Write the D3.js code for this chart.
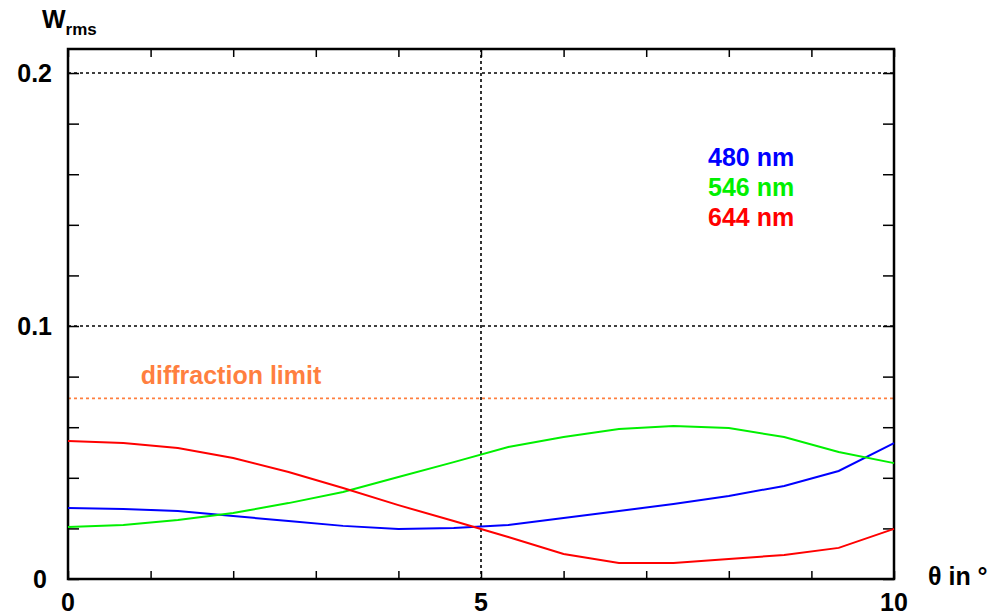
<!DOCTYPE html>
<html>
<head>
<meta charset="utf-8">
<script src="https://cdn.jsdelivr.net/npm/d3@7"></script>
<style>
  body { margin: 0; background: #fff; }
  svg text { font-family: "Liberation Sans", Arial, sans-serif; font-weight: bold; }
</style>
</head>
<body>
<svg id="chart" width="990" height="615"></svg>
<script>
// field angle in degrees
const theta = [0, 0.67, 1.33, 2, 2.67, 3.33, 4, 4.67, 5.33, 6, 6.67, 7.33, 8, 8.67, 9.33, 10]
// rms wavefront error per wavelength
const w480 = [0.0281, 0.0277, 0.0269, 0.0249, 0.0229, 0.0210, 0.0198, 0.0202, 0.0213, 0.0241, 0.0269, 0.0296, 0.0328, 0.0368, 0.0427, 0.0537]
const w546 = [0.0206, 0.0213, 0.0233, 0.0261, 0.0300, 0.0344, 0.0403, 0.0462, 0.0522, 0.0561, 0.0593, 0.0605, 0.0597, 0.0561, 0.0502, 0.0458]
const w644 = [0.0545, 0.0538, 0.0518, 0.0478, 0.0423, 0.0360, 0.0292, 0.0229, 0.0166, 0.0099, 0.0063, 0.0063, 0.0079, 0.0095, 0.0123, 0.0198]
const seriesNames = ['480 nm', '546 nm', '644 nm']
const seriesColors = ['#0000ff', '#00f000', '#ff0000']
const diffractionLimit = 0.0714
const xLabels = [0, 5, 10]
const yLabels = [0, 0.1, 0.2]

const svg = d3.select('#chart')
const mLeft = 68, mRight = 894, mTop = 49, mBottom = 579

const x = d3.scaleLinear().domain([0, 10]).range([mLeft, mRight])
const y = d3.scaleLinear().domain([0, 0.2095]).range([mBottom, mTop])

// dotted grid at the major ticks
const grid = svg.append('g').attr('class', 'grid')
grid.selectAll('line.h').data([0.1, 0.2]).enter().append('line')
  .attr('x1', mLeft).attr('x2', mRight)
  .attr('y1', d => y(d)).attr('y2', d => y(d))
  .attr('stroke', '#000').attr('stroke-width', 1.6).attr('stroke-dasharray', '3,3')
grid.append('line')
  .attr('x1', x(5)).attr('x2', x(5)).attr('y1', mTop).attr('y2', mBottom)
  .attr('stroke', '#000').attr('stroke-width', 1.6).attr('stroke-dasharray', '3,3')

// diffraction limit
svg.append('line')
  .attr('x1', mLeft).attr('x2', mRight)
  .attr('y1', y(diffractionLimit)).attr('y2', y(diffractionLimit))
  .attr('stroke', '#ff7f3f').attr('stroke-width', 1.6).attr('stroke-dasharray', '3,3')
svg.append('text')
  .attr('x', 231).attr('y', y(diffractionLimit) - 14)
  .attr('text-anchor', 'middle').attr('font-size', 25)
  .attr('fill', '#ff7f3f').text('diffraction limit')

// axes, ticks pointing inward on all four sides
const noLabel = () => ''
svg.append('g').attr('transform', `translate(0,${mBottom})`)
  .call(d3.axisBottom(x).ticks(10).tickSize(-8).tickFormat(noLabel))
svg.append('g').attr('transform', `translate(0,${mTop})`)
  .call(d3.axisTop(x).ticks(10).tickSize(-8).tickFormat(noLabel))
svg.append('g').attr('transform', `translate(${mLeft},0)`)
  .call(d3.axisLeft(y).tickValues(d3.range(0, 0.201, 0.02)).tickSize(-11).tickFormat(noLabel))
svg.append('g').attr('transform', `translate(${mRight},0)`)
  .call(d3.axisRight(y).tickValues(d3.range(0, 0.201, 0.02)).tickSize(-11).tickFormat(noLabel))
svg.selectAll('.domain').remove()
svg.selectAll('.tick line').attr('stroke', '#000').attr('stroke-width', 1.5)

// frame
svg.append('rect')
  .attr('x', mLeft).attr('y', mTop)
  .attr('width', mRight - mLeft).attr('height', mBottom - mTop)
  .attr('fill', 'none').attr('stroke', '#000').attr('stroke-width', 2.5)

// tick labels
svg.selectAll('text.xl').data(xLabels).enter().append('text')
  .attr('class', 'xl')
  .attr('x', d => x(d)).attr('y', 611)
  .attr('text-anchor', 'middle').attr('font-size', 25)
  .text(d => d)
svg.selectAll('text.yl').data(yLabels).enter().append('text')
  .attr('class', 'yl')
  .attr('x', d => d === 0 ? 47 : 52).attr('y', d => y(d) + 9)
  .attr('text-anchor', 'end').attr('font-size', 25)
  .text(d => d === 0 ? '0' : d3.format('.1f')(d))

// axis titles
const wt = svg.append('text').attr('x', 42).attr('y', 28).attr('font-size', 25)
wt.append('tspan').text('W')
wt.append('tspan').attr('font-size', 17).attr('dy', 7).text('rms')
svg.append('text').attr('x', 928).attr('y', 585).attr('font-size', 25).text('θ in °')

// curves
const series = [w480, w546, w644]
const line = d3.line().x((d, i) => x(theta[i])).y(d => y(d))
svg.append('g').selectAll('path').data(series).enter().append('path')
  .attr('d', d => line(d))
  .attr('fill', 'none')
  .attr('stroke', (d, i) => seriesColors[i])
  .attr('stroke-width', 2)

// legend
svg.selectAll('text.lg').data(seriesNames).enter().append('text')
  .attr('class', 'lg')
  .attr('x', 708).attr('y', (d, i) => 166 + i * 30)
  .attr('font-size', 25)
  .attr('fill', (d, i) => seriesColors[i])
  .text(d => d)
</script>
</body>
</html>
